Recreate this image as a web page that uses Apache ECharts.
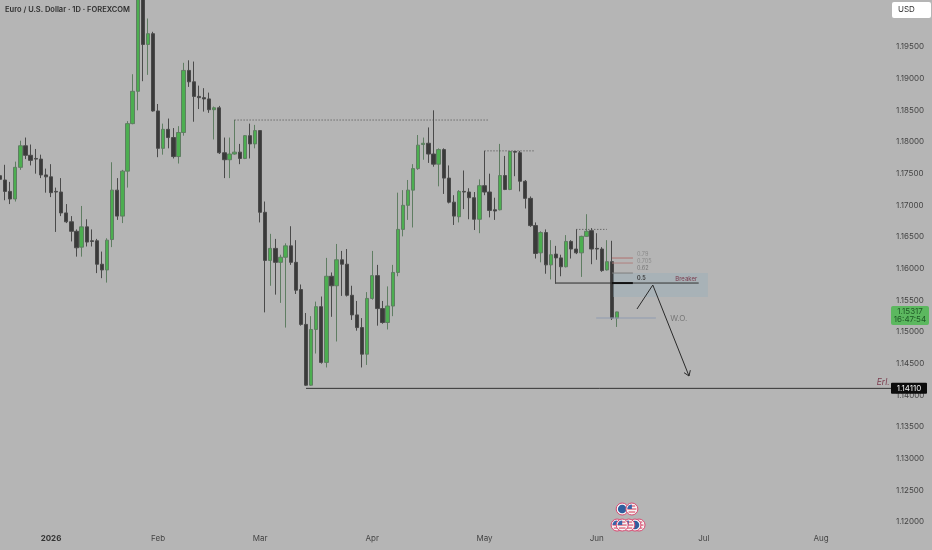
<!DOCTYPE html>
<html><head><meta charset="utf-8">
<style>html,body{margin:0;padding:0;background:#b5b5b5}#c{width:932px;height:550px}</style>
<script src="https://cdn.jsdelivr.net/npm/echarts@6/dist/echarts.min.js"></script>
</head><body><div id="c"></div>
<script>
// [open, close, low, high] per daily bar
const candles = [
[1.17468,1.17411,1.17032,1.17584],[1.1740,1.1722,1.1708,1.1764],[1.1722,1.1710,1.1702,1.1737],[1.1710,1.1760,1.1706,1.1769],
[1.1760,1.1794,1.1756,1.1802],[1.1794,1.1779,1.1773,1.1807],[1.1779,1.1771,1.1763,1.1796],[1.1774,1.1773,1.1750,1.1789],
[1.1773,1.1748,1.1743,1.1780],[1.1748,1.1745,1.1720,1.1758],[1.1745,1.1720,1.1713,1.1765],[1.1722,1.1721,1.1658,1.1728],
[1.1721,1.1688,1.1683,1.1743],[1.1688,1.1674,1.1672,1.1702],[1.1674,1.1659,1.1643,1.1683],[1.1659,1.1633,1.1619,1.1662],
[1.1634,1.1666,1.1619,1.1699],[1.1666,1.1642,1.1635,1.1678],[1.1644,1.1643,1.1635,1.1662],[1.1644,1.1607,1.1593,1.1647],
[1.1607,1.1598,1.1585,1.1627],[1.1598,1.1645,1.1578,1.1648],[1.1646,1.1724,1.1634,1.1768],[1.1724,1.1683,1.1677,1.1743],
[1.1683,1.1754,1.1672,1.1756],[1.1754,1.1829,1.1728,1.1833],[1.1829,1.1880,1.1828,1.1907],[1.1880,1.2045,1.1850,1.2060],
[1.2045,1.1954,1.1896,1.2065],[1.1954,1.1971,1.1906,1.1995],[1.1971,1.1849,1.1848,1.1974],[1.1849,1.1790,1.1776,1.1860],
[1.1790,1.1820,1.1780,1.1829],[1.1820,1.1807,1.1790,1.1837],[1.1807,1.1777,1.1774,1.1822],[1.1777,1.1815,1.1766,1.1825],
[1.1815,1.1913,1.1810,1.1925],[1.1913,1.1895,1.1887,1.1929],[1.1895,1.1872,1.1832,1.1927],[1.1872,1.1870,1.1852,1.1889],
[1.1870,1.1868,1.1848,1.1885],[1.1868,1.1851,1.1846,1.1878],[1.1851,1.1854,1.1804,1.1856],[1.1854,1.1783,1.1781,1.1857],
[1.1783,1.1772,1.1743,1.1807],[1.1772,1.1781,1.1743,1.1807],[1.1781,1.1784,1.1780,1.1835],[1.1784,1.1774,1.1765,1.1797],
[1.1774,1.1810,1.1773,1.1811],[1.1810,1.1797,1.1774,1.1829],[1.1797,1.1818,1.1790,1.1827],[1.1818,1.1689,1.1673,1.1818],
[1.1689,1.1613,1.1531,1.1706],[1.1613,1.1632,1.1573,1.1655],[1.1632,1.1610,1.1559,1.1647],[1.1610,1.1618,1.1546,1.1622],
[1.1618,1.1636,1.1507,1.1640],[1.1636,1.1610,1.1606,1.1667],[1.1610,1.1566,1.1560,1.1645],[1.1567,1.1512,1.1510,1.1575],
[1.1512,1.1416,1.1415,1.1530],[1.1416,1.1504,1.1415,1.1525],[1.1504,1.1540,1.1466,1.1548],[1.1540,1.1452,1.1450,1.1556],
[1.1452,1.1588,1.1444,1.1617],[1.1588,1.1573,1.1524,1.1594],[1.1573,1.1614,1.1485,1.1639],[1.1614,1.1607,1.1557,1.1628],
[1.1607,1.1558,1.1556,1.1631],[1.1558,1.1527,1.1519,1.1573],[1.1527,1.1507,1.1502,1.1549],[1.1507,1.1465,1.1444,1.1522],
[1.1465,1.1553,1.1448,1.1563],[1.1553,1.1589,1.1551,1.1628],[1.1589,1.1537,1.1510,1.1606],[1.1537,1.1515,1.1513,1.1549],
[1.1515,1.1541,1.1504,1.1572],[1.1541,1.1594,1.1525,1.1606],[1.1594,1.1662,1.1588,1.1720],[1.1662,1.1700,1.1651,1.1724],
[1.1700,1.1724,1.1677,1.1740],[1.1724,1.1758,1.1665,1.1765],[1.1758,1.1795,1.1756,1.1811],[1.1796,1.1798,1.1772,1.1807],
[1.1798,1.1781,1.1767,1.1823],[1.1781,1.1765,1.1761,1.1850],[1.1765,1.1788,1.1730,1.1790],[1.1788,1.1743,1.1718,1.1790],
[1.1743,1.1705,1.1703,1.1763],[1.1705,1.1683,1.1669,1.1716],[1.1682,1.1722,1.1673,1.1724],[1.1722,1.1721,1.1694,1.1755],
[1.1721,1.1712,1.1678,1.1727],[1.1712,1.1678,1.1661,1.1721],[1.1678,1.1731,1.1656,1.1741],[1.1731,1.1721,1.1716,1.1786],
[1.1721,1.1692,1.1681,1.1750],[1.1693,1.1691,1.1677,1.1712],[1.1693,1.1747,1.1692,1.1797],[1.1747,1.1725,1.1724,1.1778],
[1.1725,1.1785,1.1724,1.1785],[1.1785,1.1784,1.1746,1.1786],[1.1783,1.1738,1.1722,1.1786],[1.1738,1.1711,1.1695,1.1740],
[1.1711,1.1668,1.1666,1.1714],[1.1668,1.1624,1.1616,1.1673],[1.1625,1.1657,1.1610,1.1659],[1.1657,1.1606,1.1592,1.1662],
[1.1606,1.1622,1.1583,1.1645],[1.1623,1.1617,1.1576,1.1636],[1.1617,1.1603,1.1588,1.1622],[1.1603,1.1643,1.1602,1.1653],
[1.1643,1.1631,1.1616,1.1645],[1.1631,1.1625,1.1623,1.1662],[1.1625,1.1651,1.1587,1.1652],[1.1651,1.1659,1.1650,1.1686],
[1.1660,1.1631,1.1607,1.1664],[1.1632,1.1631,1.1614,1.1656],[1.1631,1.1597,1.1595,1.1634],[1.1598,1.1611,1.1597,1.1645],
[1.1611,1.1522,1.1519,1.1644],[1.1522,1.15317,1.1508,1.1532]
];
const barSlots = 175;
const monthIndex = [10,31,51,73,95,117,138,161];
const monthLabels = ['2026','Feb','Mar','Apr','May','Jun','Jul','Aug'];
const priceTicks = ['1.19500','1.19000','1.18500','1.18000','1.17500','1.17000','1.16500','1.16000','1.15500','1.15000','1.14500','1.14000','1.13500','1.13000','1.12500','1.12000'];
const dottedLevels = [[46,96,1.18347],[95,105,1.1786],[113,119,1.1662]];
const fibLevels = [[120,124.1,1.16168],[120,124.1,1.16089],[120,124.1,1.15931]];
const fibTexts = [[124.9,1.16231,'0.79'],[124.9,1.16121,'0.705'],[124.9,1.16010,'0.62'],[124.9,1.15852,'0.5']];
const breakerBox = [120.2,138.8,1.15931,1.15553];
const breakerLevels = [[109,120,1.15773],[120,124.1,1.15773],[124.1,137,1.15773]];
const woLevel = [116.9,128.6,1.15221];
const targetLevel = [60,175,1.1411];
const arrowPath = [[124.9,1.15363],[128,1.15742],[135.1,1.14305]];
const lastPrice = '1.15317', countdown = '16:47:54', lastValue = 1.15317, targetValue = 1.1411;
const flagRows = [[125.3,1.11952,'us'],[124.5,1.11952,'eu'],[123.3,1.11952,'us'],[121,1.11952,'us'],[122,1.11952,'us'],[122,1.12205,'eu'],[123.9,1.12205,'us']];

const categories = Array.from({length:barSlots},()=> '');
monthIndex.forEach((k,i)=>{categories[k]=monthLabels[i];});

function overlay(params, api){
  const kids=[];
  const P=(k,p)=>api.coord([k,p]);
  const seg=(a,b,stroke,lw,dash)=>kids.push({type:'line',shape:{x1:a[0],y1:a[1],x2:b[0],y2:b[1]},style:{stroke,lineWidth:lw,lineDash:dash||null}});
  const txt=(x,y,text,fill,font,al,extra)=>kids.push({type:'text',style:Object.assign({x,y,text,fill,font,textAlign:al||'left',align:al||'left',textVerticalAlign:'middle',verticalAlign:'middle'},extra||{})});
  // breaker zone
  const a=P(breakerBox[0],breakerBox[2]), b=P(breakerBox[1],breakerBox[3]);
  kids.push({type:'rect',shape:{x:a[0],y:a[1],width:b[0]-a[0],height:b[1]-a[1]},style:{fill:'rgba(150,175,185,0.42)'}});
  dottedLevels.forEach(d=>seg(P(d[0],d[2]),P(d[1],d[2]),'#4a4a4a',1,[1,2]));
  ['#b0706f','#b0807f','#7f7f7f'].forEach((c,i)=>{const f=fibLevels[i];seg(P(f[0],f[2]),P(f[1],f[2]),c,1);});
  const bl=breakerLevels;
  seg(P(bl[0][0],bl[0][2]),P(bl[0][1],bl[0][2]),'#2b2b2b',1);
  seg(P(bl[1][0],bl[1][2]),P(bl[1][1],bl[1][2]),'#111',2);
  seg(P(bl[2][0],bl[2][2]),P(bl[2][1],bl[2][2]),'#333',1);
  seg(P(woLevel[0],woLevel[2]),P(woLevel[1],woLevel[2]),'#8f9bb0',1);
  seg(P(targetLevel[0],targetLevel[2]),P(targetLevel[1],targetLevel[2]),'#333',1);
  // arrow
  const pts=arrowPath.map(q=>P(q[0],q[1]));
  kids.push({type:'polyline',shape:{points:pts},style:{stroke:'#2a2a2a',lineWidth:1,fill:null}});
  const tip=pts[2], prev=pts[1], ang=Math.atan2(tip[1]-prev[1],tip[0]-prev[0]);
  [-0.6,0.6].forEach(o=>seg(tip,[tip[0]-6*Math.cos(ang+o),tip[1]-6*Math.sin(ang+o)],'#2a2a2a',1));
  // texts
  ['#8a8a8a','#8a8a8a','#777','#333'].forEach((c,i)=>{const f=fibTexts[i];const q=P(f[0],f[1]);txt(q[0],q[1],f[2],c,(i==3?'600 ':'')+'5.5px Inter');});
  let q=P(132.4,1.15837);txt(q[0],q[1],'Breaker','#7a3b4d','6px Inter');
  q=P(131.4,1.15205);txt(q[0],q[1],'W.O.','#777','8px Inter');
  q=P(171.9,1.14211);txt(q[0],q[1],'Erl.','#7a3b4d','italic 8.5px Inter');
  // flags
  flagRows.forEach(r=>{
    const c=P(r[0],r[1]);
    kids.push({type:'circle',shape:{cx:c[0],cy:c[1],r:6},style:{fill:'#f4f4f4',stroke:'#d94a72',lineWidth:1}});
    if(r[2]==='eu'){
      kids.push({type:'circle',shape:{cx:c[0],cy:c[1],r:4.3},style:{fill:'#2f5f9e'}});
    }else{
      [-3,0,3].forEach(dy=>{const w=Math.sqrt(20-dy*dy);seg([c[0]-w,c[1]+dy],[c[0]+w,c[1]+dy],'#d8455f',1.1);});
      kids.push({type:'sector',shape:{cx:c[0],cy:c[1],r:4.6,r0:0,startAngle:Math.PI,endAngle:Math.PI*1.5},style:{fill:'#3a64a8'}});
    }
  });
  // price tags
  const py=P(0,lastValue)[1], ty=P(0,targetValue)[1];
  kids.push({type:'rect',shape:{x:891,y:py-6,width:38,height:19,r:2},style:{fill:'#5cb85f'}});
  txt(910,py-0.5,lastPrice,'#1f5a26','8px Inter','center');
  txt(910,py+8,countdown,'#1f5a26','8px Inter','center');
  kids.push({type:'rect',shape:{x:891,y:ty-5.5,width:36,height:11,r:1},style:{fill:'#0c0c0c'}});
  txt(909,ty,targetValue.toFixed(5),'#f2f2f2','8px Inter','center');
  return {type:'group',children:kids};
}

const chart = echarts.init(document.getElementById('c'),null,{renderer:'canvas'});
chart.setOption({
  animation:false,
  backgroundColor:'#b5b5b5',
  title:{text:'Euro / U.S. Dollar · 1D · FOREXCOM',left:5,top:6,padding:0,textStyle:{fontFamily:'Inter',fontSize:7.5,fontWeight:600,color:'#2f2f2f'}},
  grid:{left:-2.55,top:0,width:5.1*barSlots,height:522,containLabel:false,outerBoundsMode:'none'},
  xAxis:[
    {type:'category',data:categories,boundaryGap:true,axisLine:{show:false},axisTick:{show:false},splitLine:{show:false},
     axisLabel:{interval:0,margin:13,hideOverlap:false,color:'#444',fontFamily:'Inter',fontSize:8,
       formatter:v=>v==='2026'?'{b|2026}':v,rich:{b:{fontWeight:700,fontSize:8,color:'#333',fontFamily:'Inter'}}}},
    {type:'value',show:false,min:-0.5,max:barSlots-0.5,splitLine:{show:false}}
  ],
  yAxis:{type:'value',position:'right',min:1.12,max:1.20242,interval:0.005,axisLine:{show:false},axisTick:{show:false},splitLine:{show:false},
    axisLabel:{margin:6,showMaxLabel:false,color:'#444',fontFamily:'Inter',fontSize:8,
      formatter:v=>{const s=v.toFixed(5);return priceTicks.includes(s)?s:'';}}},
  series:[
    {type:'candlestick',xAxisIndex:0,yAxisIndex:0,data:candles,barWidth:3.8,z:2,
     itemStyle:{color:'#4cae50',color0:'#3a3a3a',borderColor:'#5f7d62',borderColor0:'#4a4a4a',borderWidth:1}},
    {type:'custom',xAxisIndex:1,yAxisIndex:0,data:[[0,1.15]],renderItem:overlay,z:5,silent:true,clip:false}
  ],
  graphic:[
    {type:'rect',shape:{x:892,y:2,width:39,height:16,r:2},style:{fill:'#ffffff'},z:10},
    {type:'text',style:{x:898,y:10,text:'USD',fill:'#333',font:'8px Inter',textVerticalAlign:'middle',verticalAlign:'middle'},z:11}
  ]
});
</script></body></html>
